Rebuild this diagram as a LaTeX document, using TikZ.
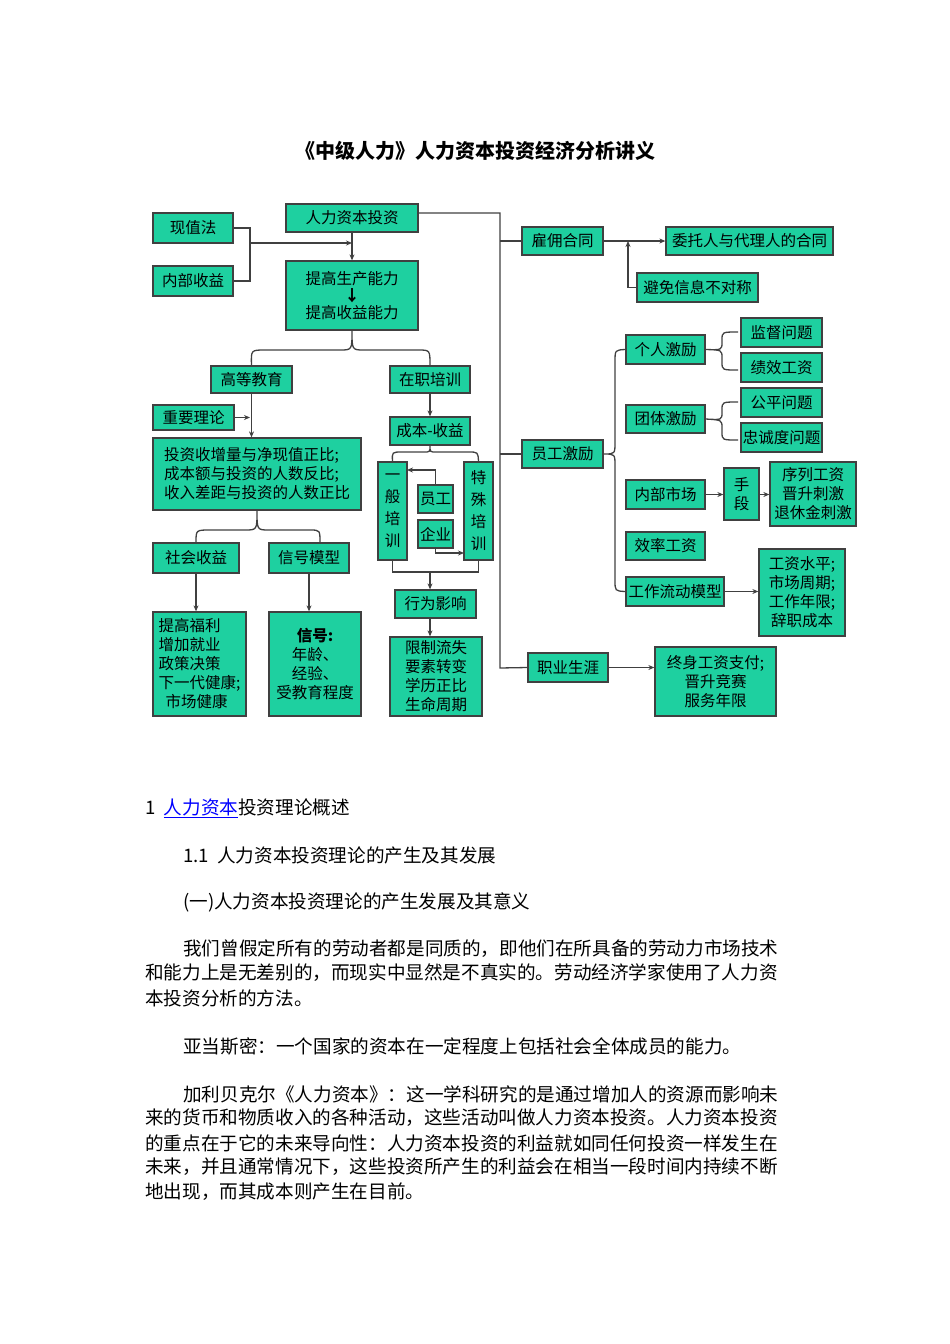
\documentclass[tikz,border=0pt]{standalone}
\usepackage{fontspec}
\setmainfont{Noto Sans CJK SC}
\usetikzlibrary{arrows.meta}
\definecolor{boxg}{RGB}{30,208,160}
\newcommand\bxn[7][]{\node[bx,minimum width={#5-#3},minimum height={#6-#4},#1] (#2) at ({(#3+#5)/2},{(#4+#6)/2}) {#7};}
\begin{document}
\begin{tikzpicture}[x=1pt,y=-1pt,
  bx/.style={draw=black!75,fill=boxg,line width=1.3pt,inner sep=0pt,align=center,font=\fontsize{15.5}{19}\selectfont},
  ln/.style={draw=black!75,line width=1.3pt},
  ar/.style={ln,-{Stealth[length=6pt,width=5pt]}},
  body/.style={anchor=west,inner sep=0pt,font=\fontsize{18.6}{24}\selectfont}]
\useasboundingbox (0,0) rectangle (950,1344);
\node[font=\fontsize{20}{24}\selectfont\bfseries] (title) at (475,151) {《中级人力》人力资本投资经济分析讲义};
% left part
\bxn{xzf}{153}{213}{233}{243}{现值法}
\bxn{nbsy}{153}{266}{233}{296}{内部收益}
\bxn{rlzb}{286}{204}{418}{232}{人力资本投资}
\bxn{tg}{286}{261}{418}{330}{提高生产能力\\[-2pt]\textbf{↓}\\[-2pt]提高收益能力}
\bxn{gdjy}{211}{366}{292}{393}{高等教育}
\bxn{zzpx}{390}{366}{470}{393}{在职培训}
\bxn{zyll}{153}{405}{234}{430}{重要理论}
\bxn[align=left]{tzs}{153}{438}{361}{510}{投资收增量与净现值正比;\\成本额与投资的人数反比;\\收入差距与投资的人数正比}
\bxn{cbsy}{390}{417}{470}{445}{成本-收益}
\bxn[font=\fontsize{15.5}{22}\selectfont]{ybpx}{378}{462}{407}{560}{一\\般\\培\\训}
\bxn{yg}{418}{485}{453}{513}{员工}
\bxn{qy}{418}{520}{453}{548}{企业}
\bxn[font=\fontsize{15.5}{22}\selectfont]{tspx}{464}{462}{493}{560}{特\\殊\\培\\训}
\bxn{shsy}{153}{543}{239}{573}{社会收益}
\bxn{xhmx}{269}{543}{349}{573}{信号模型}
\bxn{xwyx}{395}{590}{476}{618}{行为影响}
\bxn[align=left]{tgfl}{153}{612}{246}{716}{提高福利\\增加就业\\政策决策\\下一代健康;\\\ \ 市场健康}
\bxn{xh}{269}{612}{361}{716}{\textbf{信号:}\\年龄、\\经验、\\受教育程度}
\bxn{xzls}{390}{637}{482}{716}{限制流失\\要素转变\\学历正比\\生命周期}
% right part
\bxn{gyht}{522}{227}{603}{255}{雇佣合同}
\bxn{wtr}{666}{227}{833}{255}{委托人与代理人的合同}
\bxn{bm}{637}{273}{758}{302}{避免信息不对称}
\bxn{grjl}{626}{335}{705}{364}{个人激励}
\bxn{jdwt}{741}{318}{822}{347}{监督问题}
\bxn{jxgz}{741}{353}{822}{382}{绩效工资}
\bxn{ttjl}{626}{405}{705}{433}{团体激励}
\bxn{gpwt}{741}{388}{822}{417}{公平问题}
\bxn{zcd}{741}{423}{822}{452}{忠诚度问题}
\bxn{ygjl}{522}{440}{603}{468}{员工激励}
\bxn{nbsc}{626}{480}{705}{509}{内部市场}
\bxn{sd}{724}{468}{759}{520}{手\\段}
\bxn{xlgz}{770}{462}{856}{526}{序列工资\\晋升刺激\\退休金刺激}
\bxn{xlgzz}{626}{532}{705}{560}{效率工资}
\bxn{gzld}{626}{577}{724}{606}{工作流动模型}
\bxn{gzsp}{759}{549}{845}{636}{工资水平;\\市场周期;\\工作年限;\\辞职成本}
\bxn{zysy}{528}{653}{608}{682}{职业生涯}
\bxn{zsgz}{655}{647}{776}{716}{终身工资支付;\\晋升竞赛\\服务年限}
% connectors left
\draw[ln] (xzf.east) -| (250,281) -- (nbsy.east);
\draw[ar] (250,243) -- (352,243);
\draw[ar] (rlzb.south) -- (tg.north);
\draw[ln] (gdjy.north) .. controls (251,350) .. (265,350) -- (340,350) .. controls (352,350) .. (tg.south)
  .. controls (352,350) .. (364,350) -- (418,350) .. controls (430,350) .. (zzpx.north);
\draw[ar] (gdjy.south) -- (gdjy.south |- tzs.north);
\draw[ar] (zyll.east) -- (250,417.5);
\draw[ar] (zzpx.south) -- (cbsy.north);
\draw[ln] (ybpx.north) .. controls (392,452) .. (402,452) -- (424,452) .. controls (430,452) .. (cbsy.south)
  .. controls (430,452) .. (436,452) -- (468,452) .. controls (478,452) .. (tspx.north);
\draw[ar] (yg.north) -- (435.5,470) -- (407,470);
\draw[ar] (qy.south) -- (435.5,553) -- (464,553);
\draw[ln] (ybpx.south) -- (392.5,572) -- (478.5,572) -- (tspx.south);
\draw[ar] (430,572) -- (xwyx.north -| 430,0);
\draw[ar] (xwyx.south -| 430,0) -- (xzls.north -| 430,0);
\draw[ln] (shsy.north) .. controls (196,530) .. (210,530) -- (245,530) .. controls (257,530) .. (tzs.south)
  .. controls (257,530) .. (269,530) -- (310,530) .. controls (320,530) .. (320,543);
\draw[ar] (shsy.south) -- (shsy.south |- tgfl.north);
\draw[ar] (xhmx.south) -- (xhmx.south |- xh.north);
% connectors right
\draw[ln] (rlzb.east |- 0,213) -- (500,213) -- (500,668) -- (zysy.west);
\draw[ln] (500,241) -- (gyht.west);
\draw[ln] (500,454) -- (ygjl.west);
\draw[ar] (gyht.east) -- (wtr.west);
\draw[ar] (bm.west) -- (628,287.5) -- (628,241);
\draw[ln] (grjl.west) .. controls (615,350) .. (615,362) -- (615,442) .. controls (615,454) .. (ygjl.east)
  .. controls (615,454) .. (615,466) -- (615,580) .. controls (615,591) .. (gzld.west);
\draw[ln] (738,332) .. controls (722,332) .. (722,340) -- (722,342) .. controls (722,350) .. (grjl.east)
  .. controls (722,350) .. (722,358) -- (722,362) .. controls (722,370) .. (738,370);
\draw[ln] (738,402) .. controls (722,402) .. (722,410) -- (722,412) .. controls (722,420) .. (ttjl.east)
  .. controls (722,420) .. (722,428) -- (722,432) .. controls (722,440) .. (738,440);
\draw[ar] (nbsc.east) -- (sd.west |- nbsc.east);
\draw[ar] (sd.east |- nbsc.east) -- (xlgz.west |- nbsc.east);
\draw[ar] (gzld.east) -- (gzsp.west |- gzld.east);
\draw[ar] (zysy.east) -- (zsgz.west |- zysy.east);
% body text
\node[body] (h1) at (145,808) {1\ \ \textcolor{blue}{\underline{人力资本}}投资理论概述};
\node[body] (h2) at (183,855) {1.1\ \ 人力资本投资理论的产生及其发展};
\node[body] (h3) at (183,902) {(一)人力资本投资理论的产生发展及其意义};
\node[body] (p1) at (183,949) {我们曾假定所有的劳动者都是同质的，即他们在所具备的劳动力市场技术};
\node[body] (p2) at (145,973) {和能力上是无差别的，而现实中显然是不真实的。劳动经济学家使用了人力资};
\node[body] (p3) at (145,998) {本投资分析的方法。};
\node[body] (p4) at (183,1046) {亚当斯密：一个国家的资本在一定程度上包括社会全体成员的能力。};
\node[body] (p5) at (183,1094) {加利贝克尔《人力资本》：这一学科研究的是通过增加人的资源而影响未};
\node[body] (p6) at (145,1118) {来的货币和物质收入的各种活动，这些活动叫做人力资本投资。人力资本投资};
\node[body] (p7) at (145,1143) {的重点在于它的未来导向性：人力资本投资的利益就如同任何投资一样发生在};
\node[body] (p8) at (145,1167) {未来，并且通常情况下，这些投资所产生的利益会在相当一段时间内持续不断};
\node[body] (p9) at (145,1192) {地出现，而其成本则产生在目前。};
\end{tikzpicture}
\end{document}
